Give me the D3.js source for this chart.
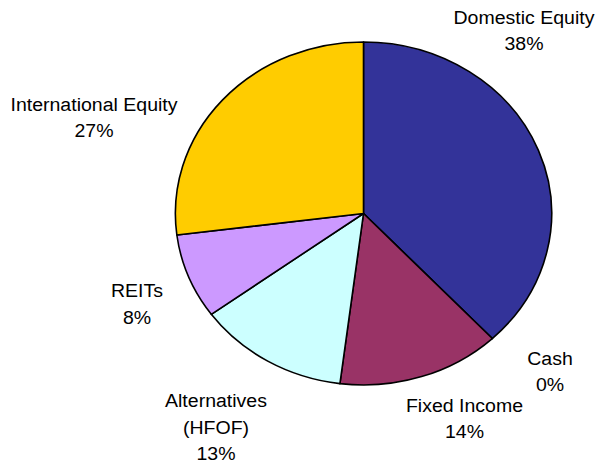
<!DOCTYPE html>
<html lang="en">
<head>
  <meta charset="UTF-8">
  <title>Asset Allocation</title>
  <script src="https://d3js.org/d3.v7.min.js"></script>
  <style>
    body { margin: 0; background: #fff; }
    svg { display: block; }
  </style>
</head>
<body>
  <div id="pie"></div>

  <script>
    // data
    const categories = ["Domestic Equity", "Cash", "Fixed Income", "Alternatives (HFOF)", "REITs", "International Equity"];
    const labelLines = [["Domestic Equity"], ["Cash"], ["Fixed Income"], ["Alternatives", "(HFOF)"], ["REITs"], ["International Equity"]];
    const shares = [38, 0, 14, 13, 8, 27];
    const colors = ["#333399", "#3366FF", "#993366", "#CCFFFF", "#CC99FF", "#FFCC00"];

    // layout
    const width = 598;
    const height = 464;
    const cx = 363.5;
    const cy = 213.5;
    const radius = 171.5;
    const stretch = 1.097;   // the original pie is drawn a bit wider than tall
    const fontSize = 17.8;
    const lineHeight = 26.3;

    // label anchors, offset from pie centre (px), first baseline
    const labelOffsets = [[160.5, -189.5], [186.5, 151.5], [101, 198.2], [-147.5, 193.8], [-226.5, 83.8], [-269.5, -102.5]];

    const svg = d3.select("#pie")
      .append("svg")
      .attr("width", width)
      .attr("height", height);

    const g = svg.append("g")
      .attr("transform", "translate(" + cx + "," + cy + ") scale(" + stretch + ",1)");

    const pie = d3.pie()
      .sort(null)
      .value(function(d) { return d; });

    const data_ready = pie(shares);

    const arcGenerator = d3.arc()
      .innerRadius(0)
      .outerRadius(radius);

    g.selectAll("path")
      .data(data_ready)
      .enter()
      .append("path")
      .attr("d", arcGenerator)
      .attr("fill", function(d, i) { return colors[i]; })
      .attr("stroke", "#000")
      .attr("stroke-width", 1.6)
      .attr("vector-effect", "non-scaling-stroke")
      .attr("stroke-linejoin", "round");

    const labels = g.selectAll("text.lbl")
      .data(data_ready)
      .enter()
      .append("text")
      .attr("class", "lbl")
      .attr("text-anchor", "middle")
      .style("font-family", "'Liberation Sans', Arial, sans-serif")
      .style("font-size", fontSize + "px")
      .attr("fill", "#000");

    labels.each(function(d, i) {
      const t = d3.select(this);
      const x = labelOffsets[i][0] / stretch;
      const y = labelOffsets[i][1];
      const lines = labelLines[i].concat([Math.round(d.data) + "%"]);
      lines.forEach(function(line, k) {
        t.append("tspan")
          .attr("x", x)
          .attr("y", y + k * lineHeight)
          .text(line);
      });
    });
  </script>
</body>
</html>
